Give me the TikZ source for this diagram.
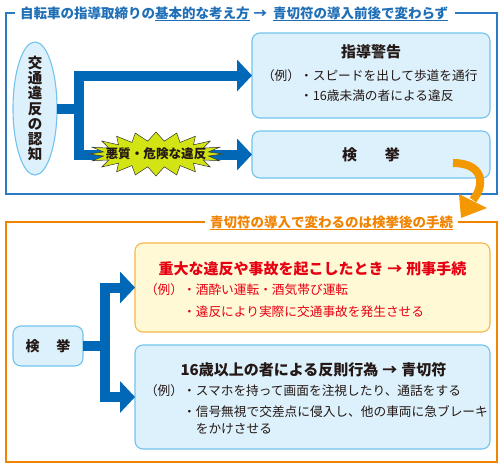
\documentclass[tikz,border=0pt]{standalone}
\usepackage{fontspec}
\setmainfont{Noto Sans CJK JP}
\usetikzlibrary{arrows.meta,shapes.geometric}
\definecolor{barblue}{HTML}{0068B7}
\definecolor{frameblue}{HTML}{2B7BC4}
\definecolor{titleblue}{HTML}{1F6FB7}
\definecolor{boxfill}{HTML}{DDF1FC}
\definecolor{boxline}{HTML}{72C3EE}
\definecolor{frameorange}{HTML}{F08300}
\definecolor{arroworange}{HTML}{F39800}
\definecolor{redtext}{HTML}{E60012}
\definecolor{yelfill}{HTML}{FFF9D6}
\definecolor{yelline}{HTML}{F7B54A}
\definecolor{starfill}{HTML}{D2E414}
\definecolor{textblack}{HTML}{231815}
\newcommand\myul[1]{\setbox0\hbox{#1}\rlap{\rule[-3pt]{\wd0}{1pt}}\box0}
\begin{document}
\begin{tikzpicture}[x=1pt,y=-1pt,
  every node/.style={inner sep=0pt,outer sep=0pt,text=textblack},
  ttl/.style={font=\fontsize{13.5}{16}\selectfont\bfseries},
  bluettl/.style={ttl,text=titleblue},
  orangettl/.style={ttl,text=frameorange},
  frameb/.style={draw=frameblue,line width=1.4pt},
  frameo/.style={draw=frameorange,line width=1.4pt},
  bluebox/.style={draw=boxline,fill=boxfill,line width=1.1pt,rounded corners=8pt},
  yelbox/.style={draw=yelline,fill=yelfill,line width=1.1pt,rounded corners=8pt},
  headtxt/.style={font=\fontsize{15}{18}\selectfont\bfseries},
  body/.style={font=\fontsize{12.7}{15}\selectfont,anchor=west},
  bar/.style={draw=barblue,line width=10pt},
  bararrow/.style={bar,-{Triangle[width=31pt,length=15pt]}},
]
\useasboundingbox (0,0) rectangle (504,467);
\fill[white] (0,0) rectangle (504,467);

% ---------- top frame ----------
\node[bluettl,anchor=west] (t1) at (20,13) {自転車の指導取締りの};
\node[bluettl,anchor=base west] (t2) at (t1.base east) {\myul{基本的な考え方}};
\node[bluettl,anchor=base west] (t3) at (t2.base east) {\hspace{4pt}→\hspace{4pt}};
\node[bluettl,anchor=base west] (t4) at ([xshift=6pt]t3.base east) {\myul{青切符の導入前後で変わらず}};
\coordinate (fe) at ([xshift=7pt]t4.east);
\draw[frameb] ([xshift=-5pt]t1.west) -- (6,13) -- (6,194) -- (497,194) -- (497,13) -- (fe |- 0,13);

\node[ellipse,draw=boxline,fill=boxfill,line width=1.1pt,minimum width=44pt,minimum height=133pt] (ell) at (35,108.5) {};
\node[font=\fontsize{14.5}{15.2}\selectfont\bfseries,align=center] (ellt) at (ell.center) {交\\通\\違\\反\\の\\認\\知};

\node[bluebox,minimum width=238pt,minimum height=85pt] (b1) at (371,75.5) {};
\node[headtxt] (b1t) at (371,52) {指導警告};
\node[body] (b1l1) at (262,76) {（例）・スピードを出して歩道を通行};
\node[body] (b1l2) at (262,96) {\phantom{（例）}・16歳未満の者による違反};

\node[bluebox,minimum width=238pt,minimum height=47pt] (b2) at (371,154.5) {};
\node[headtxt] (b2t) at (b2.center) {検\hspace{28pt}挙};

\coordinate (j1) at (79,108.5);
\draw[bar] (ell.east) -- (j1);
\draw[bararrow] (j1) |- (b1.west);
\draw[bararrow] (j1) |- (b2.west);

\coordinate (sc) at (156,154);
\draw[fill=starfill,draw=black!80,line width=0.5pt] ([shift={(sc)}]0:67 and 22)
  \foreach \a in {0,18,...,342}{ -- ([shift={(sc)}]\a+9:53 and 13) -- ([shift={(sc)}]\a+18:67 and 22)} -- cycle;
\node[font=\fontsize{12.6}{15}\selectfont\bfseries] (bad) at (sc) {悪質・危険な違反};

% ---------- bottom frame ----------
\node[orangettl] (t5) at (331.5,223) {\myul{青切符の導入で変わるのは検挙後の手続}};
\coordinate (fl) at ([xshift=-5pt]t5.west);
\coordinate (fr) at ([xshift=5pt]t5.east);
\draw[frameo] (fl |- 0,222) -- (6,222) -- (6,462) -- (497,462) -- (497,222) -- (fr |- 0,222);

\node[yelbox,minimum width=355pt,minimum height=89pt] (yb) at (312.5,287.5) {};
\node[headtxt,text=redtext] (ybt) at (312.5,269) {重大な違反や事故を起こしたとき\hspace{4pt}→\hspace{4pt}刑事手続};
\node[body,text=redtext] (ybl1) at (145,290) {（例）・酒酔い運転・酒気帯び運転};
\node[body,text=redtext] (ybl2) at (145,312) {\phantom{（例）}・違反により実際に交通事故を発生させる};

\node[bluebox,minimum width=355pt,minimum height=104pt] (bb) at (312.5,397) {};
\node[headtxt] (bbt) at (313.5,370) {16歳以上の者による反則行為\hspace{4pt}→\hspace{4pt}青切符};
\node[body] (bbl1) at (145,391) {（例）・スマホを持って画面を注視したり、通話をする};
\node[body] (bbl2) at (145,412) {\phantom{（例）}・信号無視で交差点に侵入し、他の車両に急ブレーキ};
\node[body] (bbl3) at (145,429) {\phantom{（例）・}をかけさせる};

\node[bluebox,minimum width=70pt,minimum height=40pt] (kb) at (48,346) {};
\node[font=\fontsize{14}{16}\selectfont\bfseries] (kbt) at (kb.center) {検\hspace{17pt}挙};

\coordinate (j2) at (105,346);
\draw[bar] (kb.east) -- (j2);
\draw[bararrow] (j2) |- (yb.west);
\draw[bararrow] (j2) |- (bb.west);

% ---------- orange arrow ----------
\coordinate (oa1) at (453,163);
\coordinate (oa2) at (473,200);
\draw[draw=arroworange,line width=8pt] (oa1) .. controls (481,163) and (487,182) .. (oa2);
\fill[arroworange] (459,194) -- (487,208) -- (461,218) -- cycle;
\end{tikzpicture}
\end{document}
